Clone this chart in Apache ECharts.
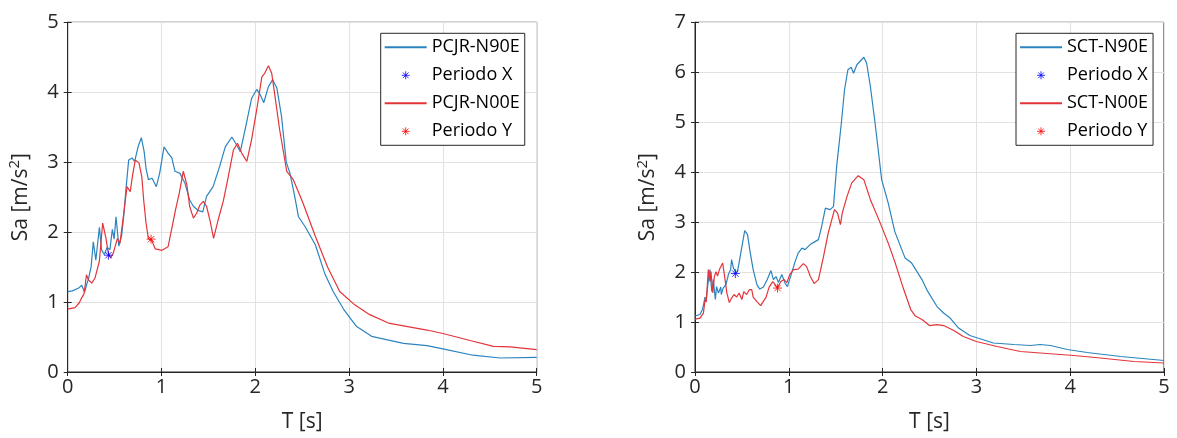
<!DOCTYPE html>
<html>
<head>
<meta charset="utf-8">
<script src="https://cdn.jsdelivr.net/npm/echarts@6/dist/echarts.min.js"></script>
<style>
  html, body { margin: 0; padding: 0; background: #fff; }
  #chart { width: 1177px; height: 438px; }
</style>
</head>
<body>
<div id="chart"></div>
<script>
// Response spectra, station PCJR (two horizontal components)
const pcjrN90E_T  = [0, 0.05, 0.117, 0.15, 0.18, 0.206, 0.22, 0.25, 0.273, 0.30, 0.338, 0.36, 0.39, 0.42, 0.45, 0.476, 0.495, 0.515, 0.545, 0.575, 0.60, 0.62, 0.65, 0.685, 0.714, 0.75, 0.785, 0.815, 0.835, 0.86, 0.90, 0.945, 0.98, 1.027, 1.07, 1.11, 1.144, 1.197, 1.25, 1.30, 1.34, 1.39, 1.44, 1.48, 1.55, 1.62, 1.68, 1.75, 1.80, 1.84, 1.89, 1.96, 2.015, 2.05, 2.09, 2.14, 2.185, 2.23, 2.28, 2.33, 2.37, 2.42, 2.46, 2.53, 2.64, 2.74, 2.83, 2.94, 3.08, 3.24, 3.58, 3.83, 4.0, 4.32, 4.61, 5.0];
const pcjrN90E_Sa = [1.15, 1.16, 1.20, 1.24, 1.14, 1.27, 1.32, 1.51, 1.86, 1.60, 2.07, 1.75, 1.68, 1.78, 1.75, 2.04, 1.90, 2.22, 1.80, 1.95, 2.27, 2.60, 3.03, 3.06, 3.01, 3.22, 3.35, 3.15, 2.91, 2.75, 2.77, 2.65, 2.84, 3.22, 3.13, 3.06, 2.87, 2.84, 2.70, 2.46, 2.37, 2.31, 2.29, 2.51, 2.65, 2.94, 3.22, 3.36, 3.25, 3.15, 3.46, 3.91, 4.04, 3.97, 3.85, 4.08, 4.18, 4.06, 3.65, 3.00, 2.84, 2.51, 2.22, 2.08, 1.82, 1.41, 1.15, 0.90, 0.65, 0.51, 0.41, 0.376, 0.33, 0.24, 0.20, 0.21];

const pcjrN00E_T  = [0, 0.078, 0.124, 0.149, 0.175, 0.20, 0.22, 0.256, 0.29, 0.337, 0.373, 0.408, 0.43, 0.458, 0.486, 0.53, 0.557, 0.593, 0.632, 0.667, 0.69, 0.72, 0.76, 0.79, 0.81, 0.835, 0.86, 0.90, 0.934, 1.005, 1.07, 1.12, 1.15, 1.19, 1.232, 1.27, 1.30, 1.34, 1.375, 1.41, 1.446, 1.48, 1.52, 1.555, 1.605, 1.66, 1.71, 1.766, 1.81, 1.855, 1.91, 1.96, 2.015, 2.07, 2.10, 2.14, 2.175, 2.21, 2.26, 2.335, 2.405, 2.48, 2.51, 2.64, 2.77, 2.90, 3.06, 3.22, 3.42, 3.83, 4.0, 4.29, 4.54, 4.72, 5.0];
const pcjrN00E_Sa = [0.90, 0.92, 0.99, 1.06, 1.12, 1.39, 1.32, 1.27, 1.34, 1.58, 2.13, 1.91, 1.72, 1.63, 1.70, 1.91, 1.84, 2.22, 2.65, 2.58, 2.80, 3.03, 2.99, 2.79, 2.46, 2.13, 1.91, 1.87, 1.76, 1.74, 1.79, 2.12, 2.32, 2.56, 2.87, 2.68, 2.37, 2.20, 2.27, 2.39, 2.44, 2.37, 2.15, 1.91, 2.18, 2.45, 2.78, 3.17, 3.27, 3.13, 3.01, 3.32, 3.75, 4.22, 4.27, 4.38, 4.27, 3.94, 3.46, 2.87, 2.75, 2.51, 2.41, 1.94, 1.50, 1.15, 0.96, 0.82, 0.70, 0.60, 0.55, 0.45, 0.366, 0.36, 0.32];

// Response spectra, station SCT (two horizontal components)
const sctN90E_T  = [0, 0.053, 0.08, 0.107, 0.12, 0.146, 0.16, 0.178, 0.195, 0.217, 0.23, 0.25, 0.275, 0.28, 0.30, 0.33, 0.356, 0.38, 0.39, 0.41, 0.44, 0.46, 0.50, 0.53, 0.56, 0.587, 0.62, 0.66, 0.69, 0.73, 0.77, 0.81, 0.836, 0.864, 0.89, 0.925, 0.96, 0.985, 1.03, 1.067, 1.10, 1.14, 1.174, 1.227, 1.28, 1.316, 1.35, 1.39, 1.44, 1.476, 1.51, 1.56, 1.594, 1.63, 1.665, 1.69, 1.726, 1.80, 1.83, 1.87, 1.92, 1.99, 2.06, 2.13, 2.24, 2.31, 2.42, 2.47, 2.58, 2.65, 2.72, 2.81, 2.93, 3.18, 3.40, 3.575, 3.68, 3.79, 3.97, 4.18, 4.54, 5.0];
const sctN90E_Sa = [1.12, 1.15, 1.25, 1.50, 1.45, 1.91, 2.05, 1.61, 1.85, 1.45, 1.71, 1.58, 1.70, 1.55, 1.68, 1.75, 1.95, 2.05, 2.25, 2.08, 1.97, 2.08, 2.51, 2.83, 2.75, 2.41, 2.05, 1.75, 1.66, 1.70, 1.85, 2.03, 1.85, 1.91, 1.79, 1.95, 1.78, 1.71, 1.98, 2.21, 2.38, 2.48, 2.45, 2.55, 2.61, 2.65, 2.91, 3.28, 3.25, 3.31, 4.11, 4.98, 5.65, 6.05, 6.10, 5.98, 6.15, 6.30, 6.18, 5.71, 4.98, 3.85, 3.38, 2.81, 2.28, 2.18, 1.85, 1.65, 1.31, 1.18, 1.08, 0.88, 0.73, 0.58, 0.55, 0.53, 0.55, 0.53, 0.45, 0.39, 0.31, 0.23];

const sctN00E_T  = [0, 0.053, 0.09, 0.107, 0.12, 0.142, 0.16, 0.17, 0.19, 0.206, 0.224, 0.24, 0.26, 0.295, 0.313, 0.34, 0.366, 0.39, 0.416, 0.445, 0.47, 0.50, 0.52, 0.55, 0.58, 0.605, 0.62, 0.66, 0.70, 0.72, 0.758, 0.79, 0.83, 0.854, 0.878, 0.915, 0.95, 0.98, 1.01, 1.05, 1.10, 1.156, 1.19, 1.23, 1.27, 1.316, 1.37, 1.42, 1.487, 1.52, 1.55, 1.57, 1.62, 1.67, 1.74, 1.80, 1.87, 1.96, 2.06, 2.13, 2.22, 2.30, 2.35, 2.42, 2.50, 2.58, 2.65, 2.76, 2.86, 3.0, 3.22, 3.47, 3.75, 4.04, 4.32, 4.68, 5.0];
const sctN00E_Sa = [1.06, 1.08, 1.18, 1.45, 1.40, 2.05, 1.81, 2.01, 1.58, 1.91, 2.01, 1.92, 2.05, 2.18, 1.95, 1.58, 1.39, 1.48, 1.55, 1.50, 1.58, 1.45, 1.61, 1.55, 1.65, 1.65, 1.50, 1.41, 1.33, 1.35, 1.50, 1.70, 1.81, 1.75, 1.68, 1.81, 1.85, 1.79, 1.95, 2.05, 2.06, 2.17, 2.11, 1.91, 1.77, 1.85, 2.31, 2.78, 3.25, 3.18, 2.95, 3.18, 3.51, 3.78, 3.93, 3.85, 3.45, 3.05, 2.58, 2.21, 1.68, 1.25, 1.12, 1.05, 0.93, 0.95, 0.93, 0.83, 0.71, 0.61, 0.51, 0.41, 0.37, 0.33, 0.28, 0.21, 0.18];

// Fundamental periods of the structure [T, Sa]
const pcjrPeriodX = [0.434, 1.67];
const pcjrPeriodY = [0.889, 1.90];
const sctPeriodX  = [0.43, 1.97];
const sctPeriodY  = [0.88, 1.68];

const xTicks = [0, 1, 2, 3, 4, 5];
const pcjrYMax = 5;
const sctYMax = 7;

const FONT = '"Open Sans", "Liberation Sans", sans-serif';
const INK = '#262626';
const BLUE = '#2b84bf';
const RED = '#e3343a';
const STAR = 'path://M5 0V10M0 5H10M1.46 1.46L8.54 8.54M8.54 1.46L1.46 8.54';

const zip = (xs, ys) => xs.map((x, i) => [x, ys[i]]);

function gridDef(left) {
  return {
    left: left, top: 22.3, width: 469, height: 350,
    show: true, borderColor: INK, borderWidth: 1, backgroundColor: '#fff'
  };
}

function bottomX(gi) {
  return {
    type: 'value', gridIndex: gi, min: xTicks[0], max: xTicks[xTicks.length - 1], interval: 1,
    name: 'T [s]', nameLocation: 'middle', nameGap: 40,
    nameTextStyle: { fontFamily: FONT, fontSize: 21, color: INK },
    axisLine: { lineStyle: { color: INK, width: 1 } },
    axisTick: { inside: true, length: 4, lineStyle: { color: INK } },
    axisLabel: { fontFamily: FONT, fontSize: 20, color: INK, margin: 5 },
    splitLine: { show: true, lineStyle: { color: '#e2e2e2', width: 1 } }
  };
}
function topX(gi) {
  return {
    type: 'value', gridIndex: gi, position: 'top', min: 0, max: 5, interval: 1,
    axisLine: { lineStyle: { color: INK } },
    axisTick: { inside: true, length: 4, lineStyle: { color: INK } },
    axisLabel: { show: false }, splitLine: { show: false }
  };
}
function leftY(gi, max) {
  return {
    type: 'value', gridIndex: gi, min: 0, max: max, interval: 1,
    name: 'Sa [m/s{s|2}]', nameLocation: 'middle', nameGap: 33,
    nameTextStyle: {
      fontFamily: FONT, fontSize: 21, color: INK,
      rich: { s: { fontFamily: FONT, fontSize: 15, color: INK, padding: [0, 0, 12, 0] } }
    },
    axisLine: { show: true, lineStyle: { color: INK, width: 1 } },
    axisTick: { show: true, inside: true, length: 4, lineStyle: { color: INK } },
    axisLabel: { fontFamily: FONT, fontSize: 20, color: INK, margin: 9 },
    splitLine: { show: true, lineStyle: { color: '#e2e2e2', width: 1 } }
  };
}
function rightY(gi, max) {
  return {
    type: 'value', gridIndex: gi, position: 'right', min: 0, max: max, interval: 1,
    axisLine: { show: true, lineStyle: { color: INK } },
    axisTick: { show: true, inside: true, length: 4, lineStyle: { color: INK } },
    axisLabel: { show: false }, splitLine: { show: false }
  };
}

function lineSeries(name, xi, yi, data, color) {
  return {
    type: 'line', name: name, xAxisIndex: xi, yAxisIndex: yi, data: data,
    symbol: 'none', showSymbol: false, color: color,
    lineStyle: { color: color, width: 1.2 }, z: 3
  };
}
function starSeries(name, xi, yi, point, color) {
  return {
    type: 'scatter', name: name, xAxisIndex: xi, yAxisIndex: yi, data: [point],
    symbol: STAR, symbolSize: 9, color: color,
    itemStyle: { color: color, borderColor: color, borderWidth: 1 }, z: 5
  };
}

function legendDef(left, lineA, lineB) {
  return {
    orient: 'vertical', left: left, top: 33.3,
    padding: [4, 5, 4, 3], itemWidth: 42, itemHeight: 8, itemGap: 8,
    borderColor: INK, borderWidth: 1, backgroundColor: '#fff',
    textStyle: { fontFamily: FONT, fontSize: 18, lineHeight: 20, color: '#000' },
    data: [
      { name: lineA, itemStyle: { opacity: 0 } },
      { name: 'Periodo X', itemStyle: { borderWidth: 1 } },
      { name: lineB, itemStyle: { opacity: 0 } },
      { name: 'Periodo Y', itemStyle: { borderWidth: 1 } }
    ],
    selectedMode: false
  };
}

const chart = echarts.init(document.getElementById('chart'), null, { renderer: 'canvas' });
chart.setOption({
  animation: false,
  backgroundColor: '#fff',
  grid: [gridDef(67.7), gridDef(695)],
  xAxis: [bottomX(0), topX(0), bottomX(1), topX(1)],
  yAxis: [leftY(0, pcjrYMax), rightY(0, pcjrYMax), leftY(1, sctYMax), rightY(1, sctYMax)],
  legend: [
    legendDef(380.7, 'PCJR-N90E', 'PCJR-N00E'),
    legendDef(1016, 'SCT-N90E', 'SCT-N00E')
  ],
  series: [
    lineSeries('PCJR-N90E', 0, 0, zip(pcjrN90E_T, pcjrN90E_Sa), BLUE),
    lineSeries('PCJR-N00E', 0, 0, zip(pcjrN00E_T, pcjrN00E_Sa), RED),
    starSeries('Periodo X', 0, 0, pcjrPeriodX, '#0000ff'),
    starSeries('Periodo Y', 0, 0, pcjrPeriodY, '#ff0000'),
    lineSeries('SCT-N90E', 2, 2, zip(sctN90E_T, sctN90E_Sa), BLUE),
    lineSeries('SCT-N00E', 2, 2, zip(sctN00E_T, sctN00E_Sa), RED),
    starSeries('Periodo X', 2, 2, sctPeriodX, '#0000ff'),
    starSeries('Periodo Y', 2, 2, sctPeriodY, '#ff0000')
  ]
});
</script>
</body>
</html>
